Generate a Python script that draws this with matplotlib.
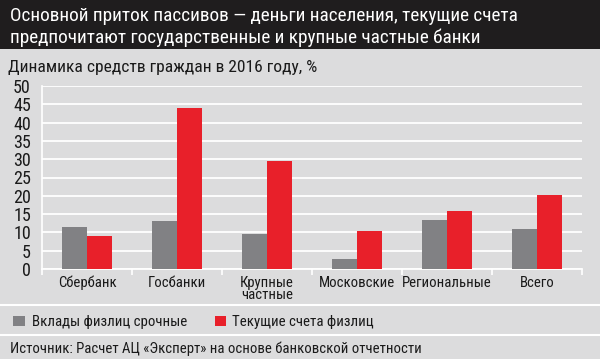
import matplotlib
matplotlib.use("Agg")
import matplotlib.pyplot as plt
from matplotlib import font_manager
from matplotlib.patches import Rectangle
from matplotlib.lines import Line2D
import numpy as np

categories = ["Сбербанк", "Госбанки", "Крупные\nчастные", "Московские", "Региональные", "Всего"]
vklady = [11.4, 13.0, 9.6, 2.6, 13.3, 10.8]
tekushchie = [9.0, 43.9, 29.5, 10.5, 15.8, 20.2]
series_names = ["Вклады физлиц срочные", "Текущие счета физлиц"]
yticks = [0, 5, 10, 15, 20, 25, 30, 35, 40, 45, 50]

title_lines = ["Основной приток пассивов — деньги населения, текущие счета",
               "предпочитают государственные и крупные частные банки"]
subtitle = "Динамика средств граждан в 2016 году, %"
source = "Источник: Расчет АЦ «Эксперт» на основе банковской отчетности"

# pick a narrow font if one is there
names = {f.name for f in font_manager.fontManager.ttflist}
fam = "DejaVu Sans"
for cand in ["Liberation Sans Narrow", "Roboto Condensed", "Open Sans Condensed", "Liberation Sans"]:
    if cand in names:
        fam = cand
        break
plt.rcParams["font.family"] = [fam, "DejaVu Sans"]

bg = "#dcdcdd"
gray = "#818184"
red = "#e8202a"
txt = "#1a1a1a"

W, H = 600, 359
fig = plt.figure(figsize=(W / 100, H / 100), dpi=100, facecolor=bg)


def fy(py):
    # pixel row from top -> figure fraction
    return 1 - py / H


# black title band
fig.patches.append(Rectangle((0, fy(49)), 1, 49 / H, transform=fig.transFigure,
                             facecolor="#1f1d1e", edgecolor="none", zorder=0))
fig.text(10 / W, fy(21), title_lines[0], color="white", fontsize=13.9, va="baseline", ha="left")
fig.text(10 / W, fy(43), title_lines[1], color="white", fontsize=13.9, va="baseline", ha="left")
fig.text(8 / W, fy(72), subtitle, color=txt, fontsize=12.6, va="baseline", ha="left")

ax = fig.add_axes([42 / W, 90 / H, 540 / W, 183 / H])
ax.set_facecolor(bg)
x = np.arange(len(categories))
w = 0.28
ax.bar(x - w / 2, vklady, w, color=gray, zorder=3)
ax.bar(x + w / 2, tekushchie, w, color=red, zorder=3)

ax.set_xlim(-0.5, len(categories) - 0.5)
ax.set_ylim(0, 50)
ax.set_yticks(yticks)
ax.yaxis.grid(True, color="white", linewidth=1.3, zorder=1)
ax.set_axisbelow(True)
for s in ["top", "right"]:
    ax.spines[s].set_visible(False)
ax.spines["left"].set_color("white")
ax.spines["bottom"].set_color("white")
ax.spines["left"].set_linewidth(1.2)
ax.spines["bottom"].set_linewidth(1.3)
ax.tick_params(axis="y", length=0, pad=8, labelsize=13, labelcolor=txt)
ax.set_xticks(x)
ax.set_xticklabels(categories, fontsize=10.6, color=txt, linespacing=0.85, va="top")
ax.tick_params(axis="x", length=0, pad=5)
ax.set_xticks(np.arange(-0.5, len(categories), 1), minor=True)
ax.tick_params(axis="x", which="minor", length=4, color="white", width=1.2)

# separators
for yy in [305, 335]:
    fig.add_artist(Line2D([0, 1], [fy(yy), fy(yy)], transform=fig.transFigure,
                          color="white", linewidth=1.5))

# legend
fig.patches.append(Rectangle((13 / W, fy(326)), 12 / W, 10 / H,
                             transform=fig.transFigure, facecolor=gray, edgecolor="none"))
fig.text(32 / W, fy(326), series_names[0], fontsize=10.7, va="baseline", color=txt)
fig.patches.append(Rectangle((215 / W, fy(326)), 11 / W, 10 / H,
                             transform=fig.transFigure, facecolor=red, edgecolor="none"))
fig.text(232 / W, fy(326), series_names[1], fontsize=10.7, va="baseline", color=txt)

fig.text(10 / W, fy(353), source, fontsize=10.6, va="baseline", color=txt)

fig.savefig("out.png", dpi=100, facecolor=bg)
